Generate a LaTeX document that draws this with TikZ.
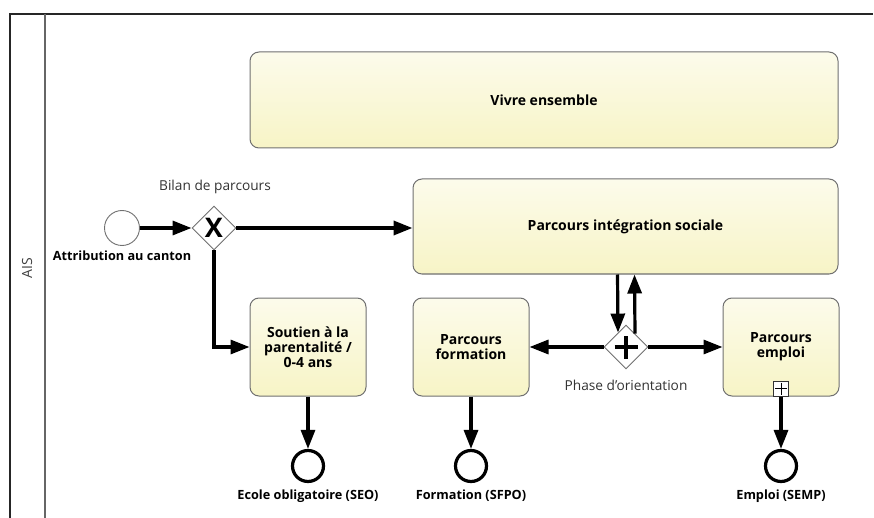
\documentclass[tikz,border=0pt]{standalone}
\usepackage{fontspec}
\setmainfont{Open Sans}
\usetikzlibrary{shapes.geometric,arrows.meta,positioning}
\definecolor{taskfill}{HTML}{F7F4C6}
\definecolor{taskline}{HTML}{707070}
\tikzset{
  task/.style={draw=taskline, line width=1pt, rounded corners=9pt,
    top color=taskfill!35, bottom color=taskfill, align=center, inner sep=0pt,
    font=\bfseries\fontsize{14}{15}\selectfont},
  gate/.style={diamond, draw=taskline, fill=white, line width=0.9pt,
    minimum size=44pt, inner sep=0pt},
  startev/.style={circle, draw=taskline, fill=white, line width=0.9pt,
    minimum size=35pt, inner sep=0pt},
  endev/.style={circle, draw=black, fill=white, line width=3.2pt,
    minimum size=31pt, inner sep=0pt},
  flow/.style={line width=3.2pt, -{Triangle[length=19pt,width=14pt]}},
  evlabel/.style={font=\bfseries\fontsize{12.7}{14}\selectfont},
  gatelabel/.style={font=\fontsize{13.7}{15}\selectfont, text=black!80}
}
\begin{document}
\begin{tikzpicture}[x=1pt, y=-1pt]
        \useasboundingbox (0,0) rectangle (874,518);
        % pool and lane
        \draw[line width=1.2pt, black!85] (10,518) -- (10,14) -- (873,14);
        \draw[line width=1.2pt, black!60] (45,14) -- (45,518);
        \node[rotate=90, font=\fontsize{14}{15}\selectfont, text=black!75] (lane) at (27,268) {AIS};

        % tasks
        \node[task, minimum width=588pt, minimum height=96pt] (vivre) at (544,100) {Vivre ensemble};
        \node[task, minimum width=425pt, minimum height=95pt] (integ) at (625.5,226.5) {Parcours intégration sociale};
        \node[task, minimum width=116pt, minimum height=98pt] (soutien) at (308,347) {Soutien à la\\parentalité /\\0-4 ans};
        \node[task, minimum width=116pt, minimum height=98pt] (form) at (471,347) {Parcours\\formation};
        \node[task, minimum width=116pt, minimum height=98pt] (emploi) at (781,347) {Parcours\\emploi};
        \node[draw=black!80, fill=white, line width=0.8pt, minimum size=15pt, inner sep=0pt,
          anchor=south] (mark) at (emploi.south) {};
        \draw[line width=0.8pt] ([yshift=-2pt]mark.north) -- ([yshift=2pt]mark.south)
          ([xshift=2pt]mark.west) -- ([xshift=-2pt]mark.east);

        % events
        \node[startev] (start) at (122,228) {};
        \node[evlabel] (startlbl) at (122,256) {Attribution au canton};
        \node[endev] (endseo) at (308,466) {};
        \node[endev] (endsfpo) at (471,466) {};
        \node[endev] (endsemp) at (781,466) {};
        \node[evlabel] (seolbl) at (308,496) {Ecole obligatoire (SEO)};
        \node[evlabel] (sfpolbl) at (471,496) {Formation (SFPO)};
        \node[evlabel] (semplbl) at (781,496) {Emploi (SEMP)};

        % gateways
        \node[gate] (xorg) at (214,228) {\fontsize{27}{27}\selectfont\bfseries X};
        \node[gatelabel] (xorlbl) at (215,187) {Bilan de parcours};
        \node[gate] (andg) at (626,347) {};
        \draw[line width=4.5pt] ([xshift=-11.5pt]andg.center) -- ([xshift=11.5pt]andg.center)
          ([yshift=-11.5pt]andg.center) -- ([yshift=11.5pt]andg.center);
        \node[gatelabel] (andlbl) at (626,385) {Phase d'orientation};

        % flows
        \draw[flow] (start) -- (xorg);
        \draw[flow, line width=3.6pt] (xorg) -- (integ.west |- xorg);
        \draw[flow] (xorg.south) |- (soutien.west);
        \draw[flow] ([xshift=-8pt]integ.south) -- ([xshift=-8pt,yshift=-8pt]andg.north);
        \draw[flow] ([xshift=9pt,yshift=-9pt]andg.north) -- ([xshift=9pt]integ.south);
        \draw[flow] (andg) -- (form);
        \draw[flow] (andg) -- (emploi);
        \draw[flow] (soutien) -- (endseo);
        \draw[flow] (form) -- (endsfpo);
        \draw[flow] (mark.south) -- (endsemp);
\end{tikzpicture}
\end{document}
